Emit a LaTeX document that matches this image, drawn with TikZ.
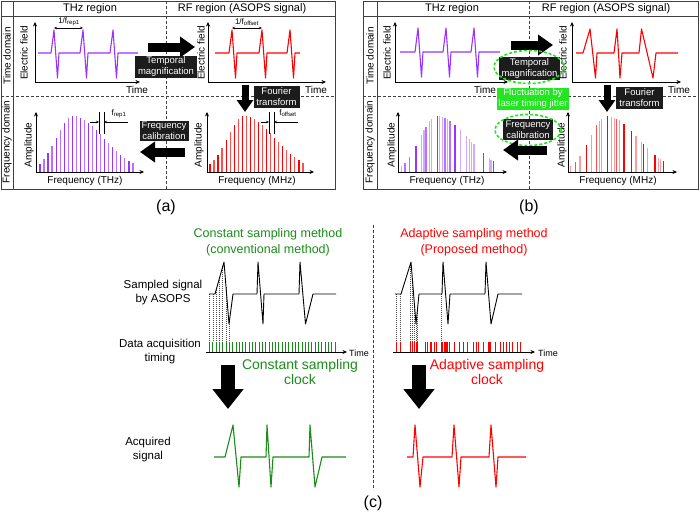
\documentclass[tikz,border=0pt]{standalone}
\usepackage{fontspec}
\setmainfont{Liberation Sans}
\usetikzlibrary{arrows.meta}

\definecolor{thz}{HTML}{9933FF}
\definecolor{thzmd}{HTML}{B870FF}
\definecolor{thzlt}{HTML}{D4A8FF}
\definecolor{rf}{HTML}{FF0000}
\definecolor{rfmd}{HTML}{FF5050}
\definecolor{rflt}{HTML}{FF9A9A}
\definecolor{cgreen}{HTML}{1A8C1A}
\definecolor{jgreen}{HTML}{22E622}
\definecolor{frame}{HTML}{404040}
\definecolor{boxbg}{HTML}{1C1C1C}

\begin{document}
\begin{tikzpicture}[x=1pt,y=-1pt,
  frm/.style={draw=frame,line width=0.8pt},
  sep/.style={draw=frame,line width=0.7pt,dash pattern=on 3pt off 2pt},
  ax/.style={line width=0.6pt,-{Stealth[length=4.5pt,width=4pt]}},
  dim/.style={line width=0.5pt,{Stealth[length=3pt,width=2.5pt]}-{Stealth[length=3pt,width=2.5pt]}},
  pin/.style={line width=0.5pt,-{Stealth[length=3pt,width=2.5pt]}},
  wave/.style={line width=1.1pt,line join=round},
  bar/.style={line width=1.3pt},
  smp/.style={black!70,line width=0.45pt,dash pattern=on 1pt off 1pt},
  lbl/.style={font=\fontsize{10}{11}\selectfont},
  hd/.style={font=\fontsize{11}{12}\selectfont},
  tiny/.style={font=\fontsize{8}{9}\selectfont},
  blk/.style={fill=boxbg,text=white,font=\fontsize{9.5}{11}\selectfont,align=center,inner sep=0pt},
  big/.style={line width=9pt,-{Triangle[length=15pt,width=20pt]}},
  mid/.style={line width=7pt,-{Triangle[length=12pt,width=16pt]}},
  huge/.style={line width=14pt,-{Triangle[length=20pt,width=30pt]}},
  jit/.style={draw=jgreen,line width=1.6pt,dash pattern=on 3pt off 2pt},
  declare function={env(\x,\c)=56*exp(-((\x-\c)/((\x<\c)?24:44))^2);}
]
\useasboundingbox (0,0) rectangle (700,514);

% ---------------- (a) ----------------
\draw[frm] (1,1) rectangle (335,189);
\draw[frm] (13,1) -- (13,189);
\draw[frm] (1,16) -- (335,16);
\draw[sep] (1,96) -- (335,96);
\draw[sep] (166,1) -- (166,189);
\node[hd] (hA1) at (90,8.5) {THz region};
\node[hd] (hA2) at (242,8.5) {RF region (ASOPS signal)};
\node[lbl,rotate=90] (tdA) at (7,56) {Time domain};
\node[lbl,rotate=90] (fdA) at (7,142) {Frequency domain};

% time domain, THz
\draw[ax] (35,82) -- (35,22);
\draw[ax] (35,82) -- (140,82);
\node[lbl,rotate=90] (efA1) at (24,53) {Electric field};
\node[lbl] (tA1) at (137,89.5) {Time};
\draw[thz,wave] (38,53) \foreach \p in {54,83,113}{ -- (\p-3,53) -- (\p,30) -- (\p+3.5,78) -- (\p+5,53)} -- (138,53);
\draw[dim] (54,28) -- (83,28);
\node[tiny] (rpA) at (69,22) {1/f\textsubscript{rep1}};

% time domain, RF
\draw[ax] (208,82) -- (208,22);
\draw[ax] (208,82) -- (326,82);
\node[lbl,rotate=90] (efA2) at (201,53) {Electric field};
\node[lbl] (tA2) at (316,89.5) {Time};
\draw[rf,wave] (215,53) \foreach \p in {232,262,290}{ -- (\p-3,53) -- (\p,30) -- (\p+3.5,78) -- (\p+5,53)} -- (300,53);
\draw[dim] (232,28) -- (262,28);
\node[tiny] (ofA) at (247,22) {1/f\textsubscript{offset}};

% frequency domain, THz
\draw[ax] (36,172) -- (36,112);
\draw[ax] (36,172) -- (144,172);
\node[lbl,rotate=90] (amA1) at (29,145) {Amplitude};
\node[lbl] (fqA1) at (85,181) {Frequency (THz)};
\foreach \i in {0,...,23}{
  \pgfmathsetmacro\x{40+4.04*\i}
  \pgfmathtruncatemacro\c{mod(\i,2)}
  \ifnum\c=0 \def\col{thz}\else\def\col{thzmd}\fi
  \draw[bar,\col] (\x,171.5) -- (\x,{172-env(\x,73)});
}
\draw[line width=0.5pt] (99,112) -- (99,134) (104,112) -- (104,134);
\draw[pin] (90,122) -- (99,122);
\draw[pin] (128,122) -- (104,122);
\node[tiny] (frA) at (119,114) {f\textsubscript{rep1}};

% frequency domain, RF
\draw[ax] (207,172) -- (207,112);
\draw[ax] (207,172) -- (314,172);
\node[lbl,rotate=90] (amA2) at (199,145) {Amplitude};
\node[lbl] (fqA2) at (257,181) {Frequency (MHz)};
\foreach \i in {0,...,23}{
  \pgfmathsetmacro\x{210+4.04*\i}
  \pgfmathtruncatemacro\c{mod(\i,2)}
  \ifnum\c=0 \def\col{rf}\else\def\col{rfmd}\fi
  \draw[bar,\col] (\x,171.5) -- (\x,{172-env(\x,244)});
}
\draw[line width=0.5pt] (269,112) -- (269,134) (274,112) -- (274,134);
\draw[pin] (261,122) -- (269,122);
\draw[pin] (298,122) -- (274,122);
\node[tiny] (foA) at (288,113) {f\textsubscript{offset}};

% arrows and boxes
\coordinate (aA1) at (148,47);
\coordinate (aA2) at (195,47);
\draw[big] (aA1) -- (aA2);
\node[blk,minimum width=62,minimum height=22] (tmA) at (166,67) {Temporal\\magnification};
\coordinate (aA3) at (245,85);
\coordinate (aA4) at (245,112);
\draw[mid] (aA3) -- (aA4);
\node[blk,minimum width=46,minimum height=22] (ftA) at (276.5,97) {Fourier\\transform};
\node[blk,minimum width=49,minimum height=20] (fcA) at (164,130.5) {Frequency\\calibration};
\coordinate (aA5) at (185,152);
\coordinate (aA6) at (140,152);
\draw[big] (aA5) -- (aA6);
\node[font=\fontsize{16}{18}\selectfont] (capA) at (166,207) {(a)};

% ---------------- (b) ----------------
\draw[frm] (363,1) rectangle (698,189);
\draw[frm] (377,1) -- (377,189);
\draw[frm] (363,16) -- (698,16);
\draw[sep] (363,96) -- (698,96);
\draw[sep] (529,1) -- (529,189);
\node[hd] (hB1) at (452,8.5) {THz region};
\node[hd] (hB2) at (606,8.5) {RF region (ASOPS signal)};
\node[lbl,rotate=90] (tdB) at (370,56) {Time domain};
\node[lbl,rotate=90] (fdB) at (370,142) {Frequency domain};

% time domain, THz
\draw[ax] (395,82) -- (395,22);
\draw[ax] (395,82) -- (508,82);
\node[lbl,rotate=90] (efB1) at (387,53) {Electric field};
\node[lbl] (tB1) at (485,89.5) {Time};
\draw[thz,wave] (400,52) \foreach \p in {418,446,474}{ -- (\p-3,52) -- (\p,28) -- (\p+3.5,77) -- (\p+5,52)} -- (500,52);

% time domain, RF (jittered)
\draw[ax] (572,82) -- (572,22);
\draw[ax] (572,82) -- (681,82);
\node[lbl,rotate=90] (efB2) at (563,53) {Electric field};
\node[lbl] (tB2) at (679,89.5) {Time};
\draw[rf,wave] (576,53) -- (583,53) -- (590,29) -- (595.5,78) -- (597,53) -- (614,53) -- (617,29) -- (620,78) -- (622,53)
  -- (639,53) -- (641.5,29) -- (653,78) -- (656,53) -- (678,53);

% frequency domain, THz
\draw[ax] (398,172) -- (398,112);
\draw[ax] (398,172) -- (507,172);
\node[lbl,rotate=90] (amB1) at (392,145) {Amplitude};
\node[lbl] (fqB1) at (447,181) {Frequency (THz)};
\foreach \x/\col in {401.7/thzlt,405/thzmd,409.3/thzmd,416/thz,421.7/thzlt,424/thzlt,426/thzmd,429.3/thzlt,431.7/thzlt,
  437.3/thz,439.3/thzlt,442.7/thzlt,445/thzmd,447.7/thzlt,450/thzmd,455/thz,460.7/thzlt,466.7/thzlt,469.3/thzlt,
  471.7/thzlt,474/thzlt,483.3/thz,489.3/thzlt,491/thzlt,493.3/thz}
  \draw[bar,\col] (\x,171.5) -- (\x,{172-env(\x,437)});

% frequency domain, RF
\draw[ax] (568,172) -- (568,112);
\draw[ax] (568,172) -- (677,172);
\node[lbl,rotate=90] (amB2) at (562,145) {Amplitude};
\node[lbl] (fqB2) at (618,181) {Frequency (MHz)};
\foreach \x/\col in {570.7/rflt,575.7/rfmd,580/rflt,586.7/rf,591.7/rflt,596.7/rfmd,599.3/rflt,601.7/rflt,607.3/rf,
  611.7/rflt,614.3/rflt,616.7/rfmd,619.3/rflt,624/rf,631.7/rf,636/rflt,641.7/rflt,643.3/rf,647.7/rflt,655/rf,
  658.3/rflt,660.7/rflt,663.3/rf}
  \draw[bar,\col] (\x,171.5) -- (\x,{172-env(\x,607)});

% arrows and boxes
\coordinate (aB1) at (511,45);
\coordinate (aB2) at (553,45);
\draw[big] (aB1) -- (aB2);
\node[blk,minimum width=61,minimum height=23] (tmB) at (529.5,68.5) {Temporal\\magnification};
\draw[jit] (529,67) ellipse [x radius=35, y radius=16.5];
\node[blk,fill=jgreen,minimum width=72,minimum height=22] (flB) at (533,99) {Fluctuation by\\laser timing jitter};
\coordinate (aB3) at (607,85);
\coordinate (aB4) at (607,112);
\draw[mid] (aB3) -- (aB4);
\node[blk,minimum width=47,minimum height=22] (ftB) at (639.5,98) {Fourier\\transform};
\node[blk,minimum width=50,minimum height=21] (fcB) at (528,129.5) {Frequency\\calibration};
\draw[jit] (528,130) ellipse [x radius=33, y radius=15.5];
\coordinate (aB5) at (547,150);
\coordinate (aB6) at (503,150);
\draw[big] (aB5) -- (aB6);
\node[font=\fontsize{16}{18}\selectfont] (capB) at (529,207) {(b)};

% ---------------- (c) ----------------
\draw[sep] (373,225) -- (373,490);
\node[font=\fontsize{12.5}{16}\selectfont,text=cgreen,align=center] (ttC1) at (268,242) {Constant sampling method\\(conventional method)};
\node[font=\fontsize{12.5}{16}\selectfont,text=rf,align=center] (ttC2) at (474,242) {Adaptive sampling method\\(Proposed method)};
\node[font=\fontsize{11.5}{14}\selectfont,align=center] (ssC) at (163,292.5) {Sampled signal\\by ASOPS};
\node[font=\fontsize{11.5}{14}\selectfont,align=center] (daC) at (160,351.5) {Data acquisition\\timing};
\node[font=\fontsize{11.5}{14}\selectfont,align=center] (acC) at (148,450) {Acquired\\signal};

% constant sampling
\foreach \x/\y in {209.5/294,212.8/294,216.1/290,219.4/278,222.7/266,226/287,229.3/322}
  \draw[smp] (\x,\y) -- (\x,342);
\draw[line width=0.9pt,line join=round] (209,294) -- (215,294) -- (224,262) -- (229,324) -- (233,294) -- (257,294) -- (258,262) -- (263,324) -- (264,294)
  -- (299,294) -- (300,262) -- (305.5,324) -- (313,294) -- (336,294);
\foreach \k in {0,...,38}
  \draw[cgreen,line width=0.8pt] ({209.5+3.3*\k},342) -- ({209.5+3.3*\k},352);
\draw[ax] (206,352) -- (347,352);
\node[font=\fontsize{9}{10}\selectfont] (tC1) at (359,353) {Time};
\node[font=\fontsize{14}{15}\selectfont,text=cgreen,align=center] (ckC1) at (300,372) {Constant sampling\\clock};
\coordinate (aC1) at (228,365);
\coordinate (aC2) at (228,409);
\draw[huge] (aC1) -- (aC2);
\draw[cgreen,wave] (214,457) -- (225,457) -- (233,425) -- (239,487) -- (241,457) -- (266,457) -- (267,425) -- (271,487) -- (273,457)
  -- (309,457) -- (310,425) -- (315,487) -- (322,457) -- (346,457);

% adaptive sampling
\foreach \x/\y in {396/294,400.7/294,410/265,412.7/283,414.3/303,416/324,417.7/307,441.7/294}
  \draw[smp] (\x,\y) -- (\x,342);
\draw[line width=0.9pt,line join=round] (395,294) -- (401,294) -- (411,262) -- (416,324) -- (419,294) -- (442,294) -- (443,262) -- (448,324) -- (450,294)
  -- (485,294) -- (486,262) -- (491,324) -- (498,294) -- (522,294);
\foreach \x in {396,400.7,410,412.7,414.3,416,417.7,425,427.3,430,431.7,434.3,436.7,441,442.7,444,445,446,447.3,449.3,454,
  459.3,463.3,467.7,473.3,476,478.3,483.3,488.3,489.3,490.7,495.7,500.7,503.3,506.7,509.3,512.7,517.7,520.7}
  \draw[rf,line width=0.8pt] (\x,342) -- (\x,352);
\draw[ax] (393,352) -- (535,352);
\node[font=\fontsize{9}{10}\selectfont] (tC2) at (548,353) {Time};
\node[font=\fontsize{14}{15}\selectfont,text=rf,align=center] (ckC2) at (487,372) {Adaptive sampling\\clock};
\coordinate (aC3) at (419,365);
\coordinate (aC4) at (419,409);
\draw[huge] (aC3) -- (aC4);
\draw[rf,wave] (407,457) -- (413,457) -- (415,425) -- (420,487) -- (423,457) -- (452,457) -- (454,425) -- (459,487) -- (461,457)
  -- (489,457) -- (491,425) -- (496,487) -- (498,457) -- (526,457);
\node[font=\fontsize{16}{18}\selectfont] (capC) at (373,503) {(c)};
\end{tikzpicture}
\end{document}
